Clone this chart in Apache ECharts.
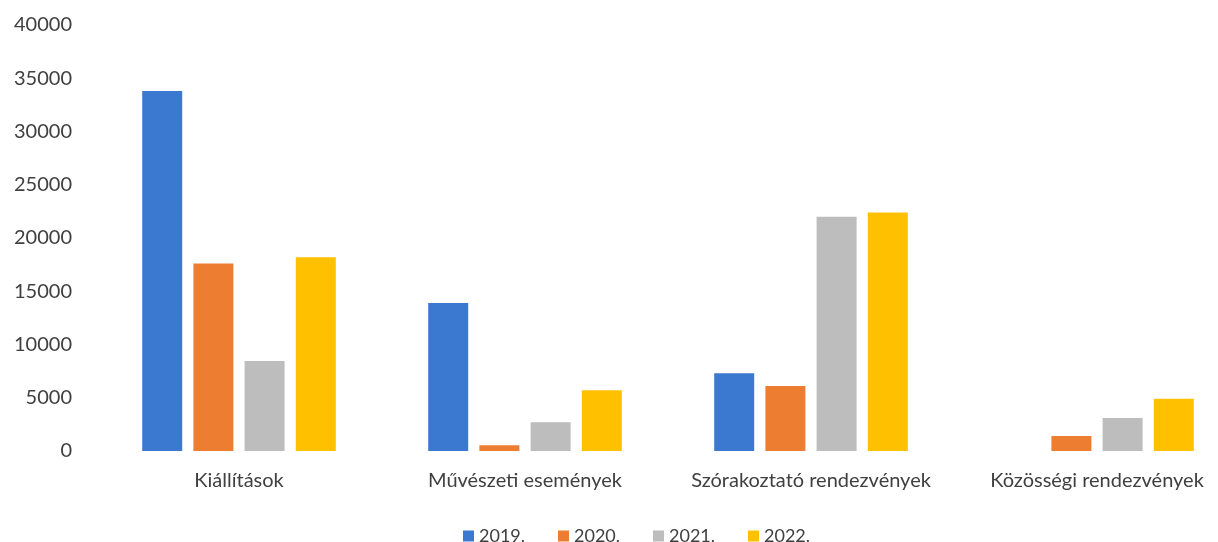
<!DOCTYPE html>
<html><head><meta charset="utf-8">
<script src="https://cdn.jsdelivr.net/npm/echarts@6/dist/echarts.min.js"></script>
<style>html,body{margin:0;padding:0;background:#fff}#c{width:1218px;height:542px}</style>
</head><body><div id="c"></div>
<script>
const categories = ['Kiállítások', 'Művészeti események', 'Szórakoztató rendezvények', 'Közösségi rendezvények'];
const seriesNames = ['2019.', '2020.', '2021.', '2022.'];
const v2019 = [33800, 13900, 7300, null];
const v2020 = [17600, 550, 6100, 1400];
const v2021 = [8450, 2700, 22000, 3100];
const v2022 = [18200, 5700, 22400, 4900];
const colors = ['#3b78d0', '#ed7d31', '#bdbdbd', '#ffc000'];
const allValues = [v2019, v2020, v2021, v2022];

const chart = echarts.init(document.getElementById('c'));
const font = 'Lato, "Open Sans", sans-serif';
chart.setOption({
  animation: false,
  textStyle: { fontFamily: font },
  grid: { left: 96, width: 1144, top: 25, bottom: 91, containLabel: false, outerBoundsMode: 'none' },
  legend: {
    data: seriesNames, top: 522, left: 458,
    itemWidth: 11, itemHeight: 11, itemGap: 33,
    icon: 'rect',
    textStyle: { fontSize: 18, color: '#404040', fontFamily: font }
  },
  xAxis: {
    type: 'category', data: categories,
    axisLine: { show: false }, axisTick: { show: false },
    axisLabel: { fontSize: 20, color: '#404040', margin: 20, fontFamily: font, interval: 0 }
  },
  yAxis: {
    type: 'value', min: 0, max: 40000, interval: 5000,
    splitLine: { show: false }, axisLine: { show: false }, axisTick: { show: false },
    axisLabel: { fontSize: 20, color: '#404040', margin: 24, fontFamily: font, formatter: v => String(v) }
  },
  series: seriesNames.map((n, i) => ({
    name: n, type: 'bar', data: allValues[i],
    itemStyle: { color: colors[i] },
    barWidth: 40, barGap: '28%'
  }))
});
</script></body></html>
